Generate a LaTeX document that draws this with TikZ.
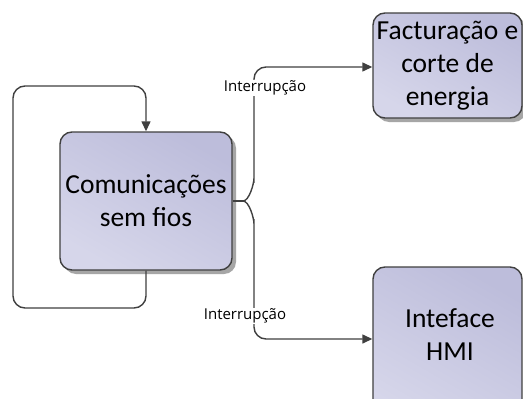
\documentclass[tikz,border=0pt]{standalone}
\usepackage{fontspec}
\setmainfont{Carlito}
\newfontfamily\labelfont{Open Sans}
\usetikzlibrary{arrows.meta,shadows}
\definecolor{lineC}{HTML}{404040}
\definecolor{boxA}{HTML}{BDBDDB}
\definecolor{boxB}{HTML}{D6D6EA}
\definecolor{shadowC}{HTML}{A6A6A6}
\tikzset{
  procbox/.style={draw=lineC, line width=1.4pt, rounded corners=12pt,
    left color=boxA, right color=boxB, shading angle=-30,
    align=center, font=\fontsize{27.5}{33}\selectfont, inner sep=0pt},
  withshadow/.style={drop shadow={shadow xshift=4pt, shadow yshift=-4pt, fill=shadowC, opacity=1}},
  conn/.style={draw=lineC, line width=1.4pt},
  arr/.style={conn, -{Triangle[length=10pt,width=9pt]}},
  lbl/.style={fill=white, inner sep=1pt, font=\labelfont\fontsize{15}{17}\selectfont, text=black},
  boxtext/.style={align=center, font=\fontsize{27.5}{33}\selectfont, inner sep=0pt}
}
\begin{document}
\begin{tikzpicture}[x=1pt,y=-1pt]
\useasboundingbox[fill=white] (0,0) rectangle (523,399);
\clip (0,0) rectangle (523,399);
% boxes
\node[procbox, withshadow, minimum width=172pt, minimum height=138pt] (main) at (146,201) {Comunicações\\sem fios};
\node[procbox, withshadow, minimum width=149pt, minimum height=105pt] (top) at (447.5,65.5) {Facturação e\\corte de\\energia};
\node[procbox, minimum width=149pt, minimum height=160pt] (hmi) at (447.5,347) {};
\node[boxtext] (hmitext) at (450,335) {Inteface\\HMI};
% feedback loop
\draw[arr, rounded corners=12pt] (main.south) -- (main.south |- 0,308) -- (13,308) -- (13,86) -- (main.north |- 0,86) -- (main.north);
% brace connectors
\coordinate (split) at (243,201);
\draw[conn] (main.east |- split) -- (split);
\draw[arr, rounded corners=12pt] (split) to[out=0,in=90] (254,190) -- (254,67) -- (top.west |- 0,67);
\draw[arr, rounded corners=12pt] (split) to[out=0,in=-90] (254,212) -- (254,339) -- (hmi.west |- 0,339);
% labels
\node[lbl] (l1) at (265,88) {Interrupção};
\node[lbl] (l2) at (245,316) {Interrupção};
\end{tikzpicture}
\end{document}
